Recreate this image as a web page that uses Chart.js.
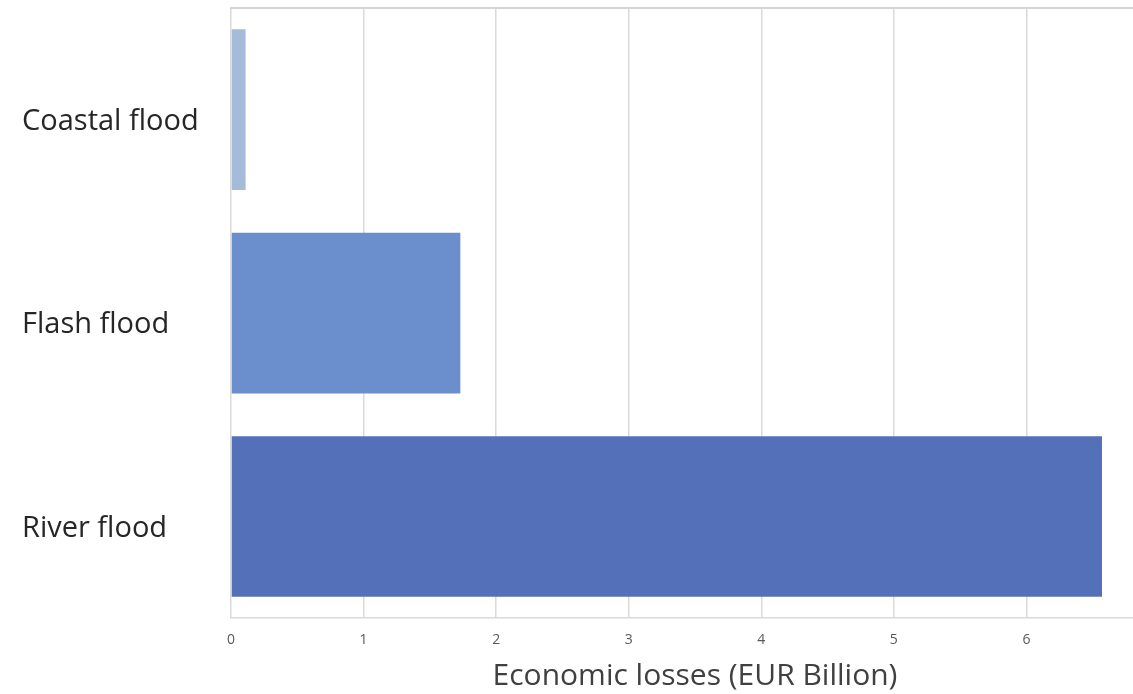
<!DOCTYPE html>
<html>
<head>
<meta charset="utf-8">
<title>Economic losses by flood type</title>
<script src="https://cdn.jsdelivr.net/npm/chart.js@4/dist/chart.umd.min.js"></script>
<style>
  html, body { margin: 0; padding: 0; background: #ffffff; overflow: hidden; }
  #wrap { position: relative; width: 1159px; height: 694px; }
</style>
</head>
<body>
<div id="wrap"><canvas id="losses"></canvas></div>
<script>
// flood types and their economic losses (EUR billion)
const floodTypes = ['Coastal flood', 'Flash flood', 'River flood'];
const lossValues = [0.11, 1.73, 6.57];
const barColors = ['#a6bbd9', '#6b8fcc', '#5370b8'];
const axisTitle = 'Economic losses (EUR Billion)';

const fontFamily = '"Open Sans", "Liberation Sans", sans-serif';
const gridColor = '#dadada';

const ctx = document.getElementById('losses');

new Chart(ctx, {
  type: 'bar',
  data: {
    labels: floodTypes,
    datasets: [{
      data: lossValues,
      backgroundColor: barColors,
      borderWidth: 0,
      categoryPercentage: 0.79,
      barPercentage: 1
    }]
  },
  options: {
    indexAxis: 'y',
    responsive: true,
    maintainAspectRatio: false,
    animation: false,
    layout: { padding: { left: 22, top: 8, right: 0, bottom: 0 } },
    plugins: {
      legend: { display: false },
      tooltip: { enabled: false }
    },
    scales: {
      x: {
        min: 0,
        max: 7,
        grid: { color: gridColor, lineWidth: 1.5, drawTicks: false },
        border: { display: true, color: gridColor, width: 1.5 },
        ticks: {
          stepSize: 1,
          padding: 13,
          color: '#595959',
          font: { family: fontFamily, size: 14 }
        },
        title: {
          display: true,
          text: axisTitle,
          color: '#404040',
          padding: { top: -3, bottom: 0 },
          font: { family: fontFamily, size: 30 }
        },
        afterFit: function (scale) {
          scale.paddingLeft = 0;
          scale.paddingRight = 0;
        }
      },
      // frame line along the top of the plot
      xTop: {
        type: 'linear',
        position: 'top',
        min: 0,
        max: 7,
        grid: { display: false, drawTicks: false },
        border: { display: true, color: '#d4d4d4', width: 2 },
        ticks: { display: false }
      },
      y: {
        grid: { display: false, drawTicks: false },
        border: { display: false },
        ticks: {
          crossAlign: 'far',
          labelOffset: 12,
          color: '#262626',
          font: { family: fontFamily, size: 29 }
        },
        afterFit: function (scale) {
          scale.width = 209;
          scale.paddingTop = 0;
          scale.paddingBottom = 0;
        }
      }
    }
  }
});
</script>
</body>
</html>
